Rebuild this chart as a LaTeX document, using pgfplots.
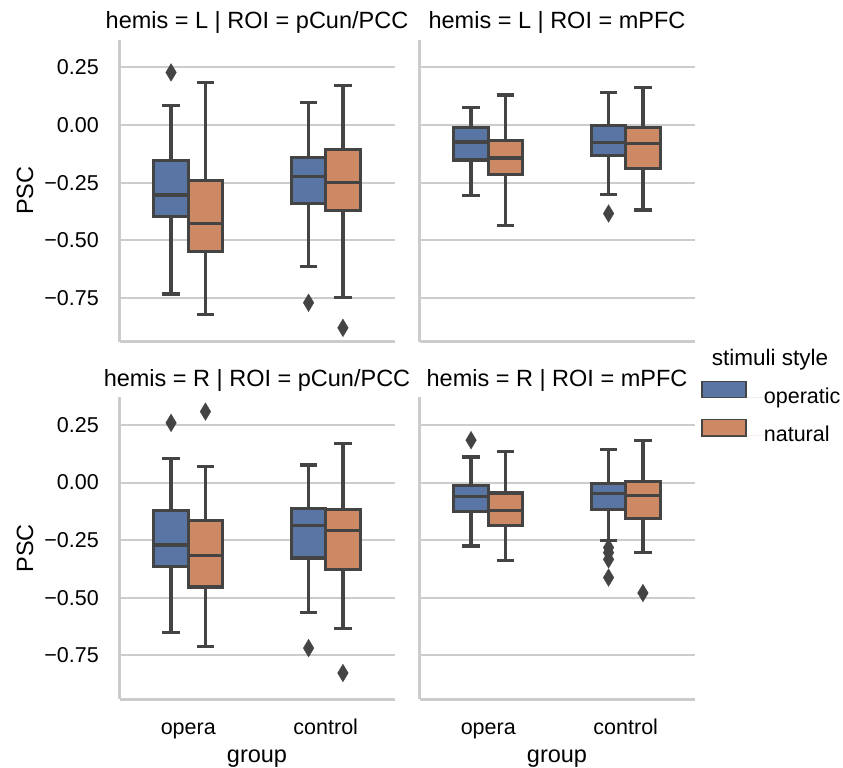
\documentclass[border=0pt]{standalone}
\usepackage{fontspec}
\setmainfont{Liberation Sans}
\usepackage{pgfplots}
\pgfplotsset{compat=1.18}
\usepgfplotslibrary{statistics}

\definecolor{sbblue}{HTML}{5875A3}
\definecolor{sborange}{HTML}{CC8963}
\definecolor{lgray}{HTML}{444444}
\definecolor{spine}{HTML}{CCCCCC}
\definecolor{gridc}{HTML}{CCCCCC}

\newcommand{\tickfont}{\fontsize{21.5}{26}\selectfont}
\newcommand{\labfont}{\fontsize{23.5}{28}\selectfont}

\pgfplotsset{
  facet/.style={
    scale only axis, width=275pt, height=302pt, anchor=south west,
    xmin=-0.5, xmax=1.5, ymin=-0.94, ymax=0.37,
    enlargelimits=false, clip=false,
    axis lines*=left,
    axis line style={draw=spine, line width=2.4pt},
    xtick={0,1}, ytick={-0.75,-0.5,-0.25,0,0.25},
    major tick length=0pt,
    ymajorgrids, grid style={draw=gridc, line width=2pt},
    ticklabel style={font=\tickfont},
    xticklabel style={anchor=base, yshift=-34.7pt},
    yticklabel style={anchor=east, inner sep=0pt, xshift=-20.5pt},
    every axis title/.style={at={(0.5,1)}, anchor=base, yshift=11.3pt, font=\labfont},
    every axis y label/.style={at={(axis description cs:-0.3436,0.5)}, rotate=90, anchor=center, font=\labfont},
    every axis x label/.style={at={(axis description cs:0.5,0)}, anchor=base, yshift=-63.4pt, font=\labfont},
  },
  lefty/.style={yticklabels={−0.75,−0.50,−0.25,0.00,0.25}, ylabel={PSC}},
  noy/.style={yticklabels={}},
  botx/.style={xticklabels={opera,control}, xlabel={group}},
  nox/.style={xticklabels={}},
  sbbox/.style={forget plot, draw=lgray, line width=3.2pt, solid,
    mark=diamond*, mark size=8.8pt,
    mark options={fill=lgray, draw=lgray, line width=0.4pt, xscale=0.8},
    boxplot/draw direction=y,
    boxplot/box extend=0.25, boxplot/whisker extend=0.125,
    boxplot/every box/.style={line width=3.2pt},
    boxplot/every whisker/.style={line width=3.2pt},
    boxplot/every median/.style={line width=3.2pt}},
  oper/.style={sbbox, fill=sbblue},
  natu/.style={sbbox, fill=sborange},
}

\begin{document}
\begin{tikzpicture}
\useasboundingbox (0,0) rectangle (843pt,768pt);

% hemis = L, pCun/PCC
\begin{axis}[facet, lefty, nox, at={(119.5pt,426.3pt)}, title={hemis = L | ROI = pCun/PCC}]
\addplot[oper, boxplot prepared={draw position=-0.125, lower whisker=-0.733, lower quartile=-0.398, median=-0.304, upper quartile=-0.154, upper whisker=0.085}] table[row sep=\\, y index=0] {v\\ 0.228\\};
\addplot[natu, boxplot prepared={draw position=0.125, lower whisker=-0.823, lower quartile=-0.550, median=-0.427, upper quartile=-0.241, upper whisker=0.186}] coordinates {};
\addplot[oper, boxplot prepared={draw position=0.875, lower whisker=-0.615, lower quartile=-0.341, median=-0.225, upper quartile=-0.141, upper whisker=0.098}] table[row sep=\\, y index=0] {v\\ -0.771\\};
\addplot[natu, boxplot prepared={draw position=1.125, lower whisker=-0.749, lower quartile=-0.371, median=-0.250, upper quartile=-0.105, upper whisker=0.170}] table[row sep=\\, y index=0] {v\\ -0.880\\};
\end{axis}

% hemis = L, mPFC
\begin{axis}[facet, noy, nox, at={(419.5pt,426.3pt)}, title={hemis = L | ROI = mPFC}]
\addplot[oper, boxplot prepared={draw position=-0.125, lower whisker=-0.305, lower quartile=-0.152, median=-0.074, upper quartile=-0.010, upper whisker=0.075}] coordinates {};
\addplot[natu, boxplot prepared={draw position=0.125, lower whisker=-0.436, lower quartile=-0.216, median=-0.143, upper quartile=-0.068, upper whisker=0.130}] coordinates {};
\addplot[oper, boxplot prepared={draw position=0.875, lower whisker=-0.303, lower quartile=-0.133, median=-0.075, upper quartile=-0.003, upper whisker=0.140}] table[row sep=\\, y index=0] {v\\ -0.384\\};
\addplot[natu, boxplot prepared={draw position=1.125, lower whisker=-0.369, lower quartile=-0.190, median=-0.082, upper quartile=-0.012, upper whisker=0.163}] coordinates {};
\end{axis}

% hemis = R, pCun/PCC
\begin{axis}[facet, lefty, botx, at={(119.5pt,68.7pt)}, title={hemis = R | ROI = pCun/PCC}]
\addplot[oper, boxplot prepared={draw position=-0.125, lower whisker=-0.650, lower quartile=-0.364, median=-0.271, upper quartile=-0.121, upper whisker=0.106}] table[row sep=\\, y index=0] {v\\ 0.259\\};
\addplot[natu, boxplot prepared={draw position=0.125, lower whisker=-0.712, lower quartile=-0.453, median=-0.317, upper quartile=-0.164, upper whisker=0.069}] table[row sep=\\, y index=0] {v\\ 0.308\\};
\addplot[oper, boxplot prepared={draw position=0.875, lower whisker=-0.565, lower quartile=-0.327, median=-0.186, upper quartile=-0.114, upper whisker=0.076}] table[row sep=\\, y index=0] {v\\ -0.718\\};
\addplot[natu, boxplot prepared={draw position=1.125, lower whisker=-0.633, lower quartile=-0.377, median=-0.209, upper quartile=-0.115, upper whisker=0.171}] table[row sep=\\, y index=0] {v\\ -0.826\\};
\end{axis}

% hemis = R, mPFC
\begin{axis}[facet, noy, botx, at={(419.5pt,68.7pt)}, title={hemis = R | ROI = mPFC},
  legend image code/.code={\draw[#1, line width=1.4pt] (0pt,0pt) rectangle (44pt,16.5pt); \path[draw=none] (0pt,0pt) -- (62pt,0pt);},
  legend cell align=left,
  legend style={at={(1.0236,1.0562)}, anchor=north west, draw=none, fill=none, inner sep=0pt,
    font=\tickfont, row sep=10.5pt, nodes={inner sep=0pt, text height=16.5pt, text depth=4.5pt}}]
\addlegendimage{fill=sbblue, draw=lgray}
\addlegendentry{operatic}
\addlegendimage{fill=sborange, draw=lgray}
\addlegendentry{natural}
\addplot[oper, boxplot prepared={draw position=-0.125, lower whisker=-0.275, lower quartile=-0.127, median=-0.059, upper quartile=-0.012, upper whisker=0.111}] table[row sep=\\, y index=0] {v\\ 0.184\\};
\addplot[natu, boxplot prepared={draw position=0.125, lower whisker=-0.337, lower quartile=-0.186, median=-0.122, upper quartile=-0.045, upper whisker=0.134}] coordinates {};
\addplot[oper, boxplot prepared={draw position=0.875, lower whisker=-0.250, lower quartile=-0.117, median=-0.046, upper quartile=-0.004, upper whisker=0.142}] table[row sep=\\, y index=0] {v\\ -0.282\\ -0.304\\ -0.333\\ -0.412\\};
\addplot[natu, boxplot prepared={draw position=1.125, lower whisker=-0.304, lower quartile=-0.155, median=-0.056, upper quartile=0.004, upper whisker=0.184}] table[row sep=\\, y index=0] {v\\ -0.479\\};
\end{axis}

\node[anchor=base, font=\fontsize{22.5}{27}\selectfont] at (770pt,402pt) {stimuli style};
\end{tikzpicture}
\end{document}
